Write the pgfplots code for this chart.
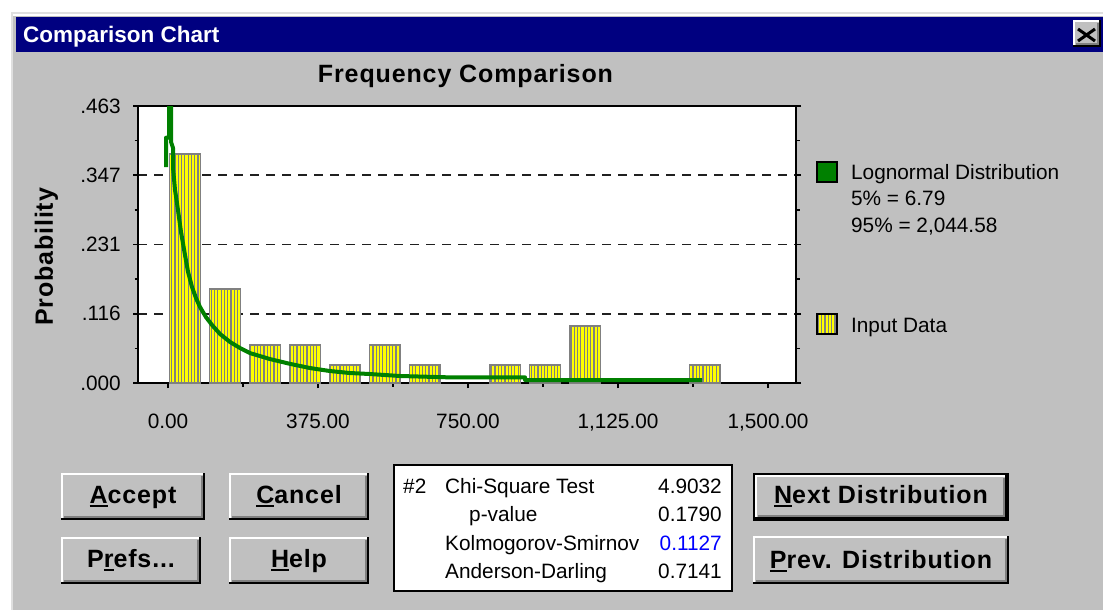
\documentclass[border=0pt]{standalone}
\usepackage{fontspec}
\setmainfont{Liberation Sans}
\newfontfamily\uifont{Liberation Sans}[LetterSpace=3.5]
\usepackage{pgfplots}
\usepackage{pgfplotstable}
\pgfplotsset{compat=1.18}
\usetikzlibrary{patterns.meta}

\definecolor{winbg}{HTML}{C0C0C0}
\definecolor{winnavy}{HTML}{000080}
\definecolor{lngreen}{HTML}{008000}
\definecolor{shadowgray}{HTML}{808080}
\definecolor{barline}{HTML}{808080}
\definecolor{barfill}{HTML}{FFFF00}
\definecolor{gridc}{HTML}{202020}
\definecolor{winlight}{HTML}{DFDFDF}
\definecolor{ksblue}{HTML}{0000FF}

\newcommand\regfont{\fontsize{20.8}{24}\selectfont}
\newcommand\boldfont{\uifont\bfseries\fontsize{25}{29}\selectfont}
\newcommand\ul[1]{\setbox0=\hbox{#1}\rlap{\rule[-3.5pt]{\wd0}{1.6pt}}\box0}

\newcommand\winbtn[6]{%
  \pgfmathsetmacro\bxa{#1+1}\pgfmathsetmacro\bya{#2+1}%
  \pgfmathsetmacro\bxb{#3-1}\pgfmathsetmacro\byb{#4-1}%
  \pgfmathsetmacro\bxc{#3-3}\pgfmathsetmacro\byc{#4-3}%
  \pgfmathsetmacro\bxd{#1+3}\pgfmathsetmacro\byd{#2+3}%
  \fill[winbg] (#1,#2) rectangle (#3,#4);
  \draw[white, line width=2pt] (\bxa,\byb) -- (\bxa,\bya) -- (\bxb,\bya);
  \draw[black, line width=2pt] (#1,\byb) -- (\bxb,\byb) -- (\bxb,#2);
  \draw[shadowgray, line width=2pt] (\bxd,\byc) -- (\bxc,\byc) -- (\bxc,\byd);
  \node[anchor=base, inner sep=0pt, font=\boldfont] at ({(#1+#3)/2},#6) {#5};
}

\pgfplotstableread{
x y
42.5 0.383
142.5 0.157
243 0.0635
343 0.0635
442.5 0.030
542.5 0.0635
642.5 0.030
843 0.030
942.5 0.030
1042.5 0.0953
1342.5 0.030
}\bardata

\pgfplotstableread{
x y
-5 0.361
-5 0.410
2.5 0.410
2.5 0.48
7.5 0.48
7.5 0.403
12.5 0.393
12.5 0.360
17.5 0.323
25 0.289
32.5 0.2525
42.5 0.214
50 0.186
60 0.1605
70 0.142
80 0.127
95 0.110
110 0.097
130 0.082
155 0.0686
180 0.0585
205 0.050
230 0.045
255 0.040
305 0.032
355 0.025
405 0.020
455 0.0167
505 0.015
580 0.0117
700 0.0095
892.5 0.0095
892.5 0.005
1335 0.005
}\curvedata

\begin{document}
\begin{tikzpicture}
\begin{scope}[x=1pt,y=-1pt]
  \path[use as bounding box] (0,0) rectangle (1103,610);
  \fill[white] (0,0) rectangle (1103,610);
  \fill[winbg] (11,12) rectangle (1103,610);
  \fill[winlight] (11,12) rectangle (1103,14);
  \fill[winlight] (11,12) rectangle (13,610);
  \fill[white] (13,14) rectangle (1103,16);
  \fill[winnavy] (16,17) rectangle (1103,52);
  \node[anchor=base west, inner sep=0pt, text=white, font=\bfseries\fontsize{22.5}{26}\selectfont] at (23,43) {Comparison Chart};
  % close button
  \winbtn{1073}{20}{1101}{47}{}{40}
  \draw[black, line width=3pt] (1078,29) -- (1095,41);
  \draw[black, line width=3pt] (1095,29) -- (1078,41);
  % buttons
  \winbtn{61}{473}{205}{520}{\ul{A}ccept}{503}
  \winbtn{229}{473}{369}{520}{\ul{C}ancel}{503}
  \winbtn{61}{537}{201}{584}{P\ul{r}efs...}{567}
  \winbtn{229}{537}{369}{584}{\ul{H}elp}{567}
  \draw[black, line width=2pt] (754,474) rectangle (1008,520);
  \winbtn{755}{475}{1007}{519}{\ul{N}ext Distribution}{503}
  \winbtn{753}{536}{1009}{584}{\ul{P}rev. Distribution}{568}
  % statistics box
  \fill[white] (393,464) rectangle (733,592);
  \draw[black, line width=2pt] (394,465) rectangle (732,591);
  \begin{scope}[every node/.style={inner sep=0pt, font=\regfont}]
    \node[anchor=base west] at (403,493) {\#2};
    \node[anchor=base west] at (445,493) {Chi-Square Test};
    \node[anchor=base east] at (722,493) {4.9032};
    \node[anchor=base west] at (469,521.7) {p-value};
    \node[anchor=base east] at (722,521.7) {0.1790};
    \node[anchor=base west] at (445,550) {Kolmogorov-Smirnov};
    \node[anchor=base east, text=ksblue] at (722,550) {0.1127};
    \node[anchor=base west] at (445,578.3) {Anderson-Darling};
    \node[anchor=base east] at (722,578.3) {0.7141};
  \end{scope}
\end{scope}

\begin{axis}[
  at={(138pt,-383pt)}, anchor=south west,
  scale only axis, width=658pt, height=277pt,
  xmin=-75, xmax=1570, ymin=0, ymax=0.463,
  axis background/.style={fill=white},
  axis line style={line width=1.6pt, black},
  xtick={0,375,750,1125,1500},
  xticklabels={0.00,375.00,750.00,{1,125.00},{1,500.00}},
  minor xtick={187.5,562.5,937.5,1312.5},
  ytick={0,0.11575,0.2315,0.34725,0.463},
  yticklabels={.000,.116,.231,.347,.463},
  minor ytick={0.057875,0.173625,0.289375,0.405125},
  tick align=outside,
  xtick pos=bottom,
  ytick pos=both,
  yticklabel pos=left,
  major tick length=5pt, minor tick length=3.5pt,
  tick style={line width=1.6pt, black},
  ymajorgrids,
  major grid style={dash pattern=on 8.5pt off 7.5pt, line width=1.6pt, gridc},
  ticklabel style={font=\regfont, inner sep=0pt},
  xticklabel style={anchor=base, yshift=-40pt},
  yticklabel style={anchor=east, xshift=-12pt},
  every axis title shift=0pt,
  title={Frequency Comparison},
  title style={at={(axis description cs:0.4977,1.0866)}, anchor=base, yshift=0pt, font=\boldfont, inner sep=0pt},
  ylabel={Probability},
  ylabel style={at={(axis description cs:-0.1292,0.4549)}, anchor=base, font=\boldfont, inner sep=0pt},
  legend style={at={(axis description cs:1.0309,0.805)}, anchor=north west, draw=none, fill=none,
    inner sep=0pt, outer sep=0pt, column sep=13.5pt, row sep=0pt, font=\regfont,
    nodes={inner sep=0pt, text height=19pt, text depth=7.5pt},
    cells={anchor=base west}},
]
\addplot[ybar, bar width=77, draw=barline, line width=1.5pt,
  preaction={fill=barfill},
  pattern={Lines[angle=90,distance=3.3pt,line width=1.2pt]}, pattern color=shadowgray,
  forget plot] table {\bardata};
\addplot[lngreen, line width=4pt, line join=round, forget plot] table {\curvedata};

\addlegendimage{legend image code/.code={\draw[fill=lngreen,draw=black,line width=1.3pt] (0pt,-3pt) rectangle (20pt,17pt);}}
\addlegendentry{Lognormal Distribution}
\addlegendimage{empty legend}
\addlegendentry{5\% = 6.79}
\addlegendimage{empty legend}
\addlegendentry{95\% = 2,044.58}
\addlegendimage{empty legend}
\addlegendentry[text height=73.5pt, text depth=0pt]{}
\addlegendimage{legend image code/.code={\draw[draw=black,line width=1.3pt,preaction={fill=barfill},pattern={Lines[angle=90,distance=3.3pt,line width=1.2pt]},pattern color=shadowgray] (0pt,-2pt) rectangle (20pt,18pt);}}
\addlegendentry{Input Data}
\end{axis}
\end{tikzpicture}
\end{document}
